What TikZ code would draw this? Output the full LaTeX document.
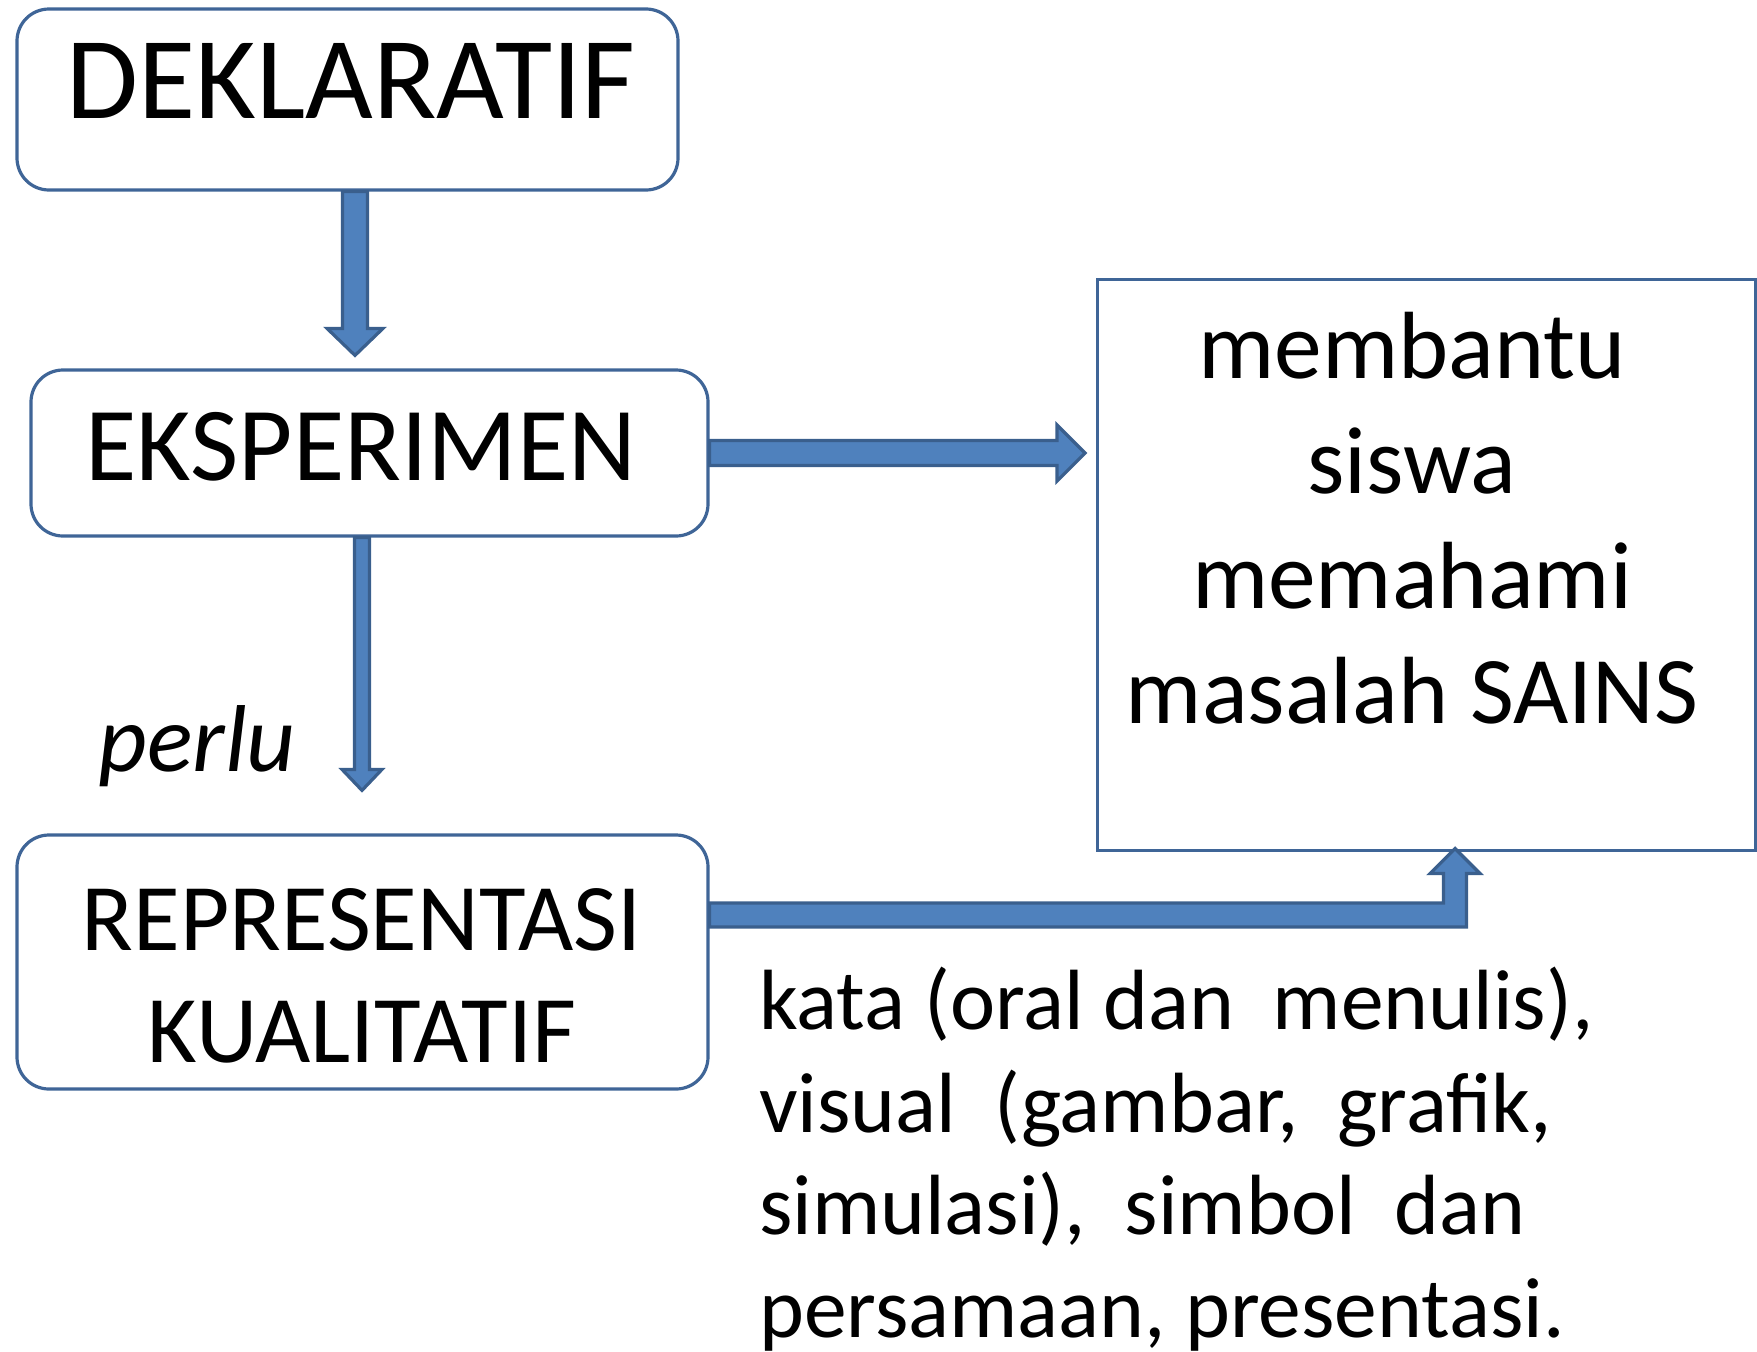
\documentclass[tikz,border=0pt]{standalone}
\usepackage{fontspec}
\setmainfont{Carlito}
\usetikzlibrary{calc}
\definecolor{arrowfill}{HTML}{4F81BD}
\definecolor{arrowline}{HTML}{3A5F8D}
\definecolor{boxline}{HTML}{3F6597}
\tikzset{
  roundbox/.style={draw=boxline, line width=3.2pt, rounded corners=32pt, fill=white, inner sep=0pt},
  plainbox/.style={draw=boxline, line width=3pt, fill=white, inner sep=0pt},
  boxtext/.style={inner sep=0pt, anchor=base},
  blockarrow/.style={fill=arrowfill, draw=arrowline, line width=3.2pt, line join=miter},
}
\begin{document}
\begin{tikzpicture}[x=1pt,y=-1pt]
\useasboundingbox (0,0) rectangle (1757,1352);

% boxes
\node[roundbox, minimum width=661pt, minimum height=181pt] (dek) at (347.5,99.5) {};
\node[roundbox, minimum width=677pt, minimum height=166pt] (eks) at (369.5,453) {};
\node[roundbox, minimum width=691pt, minimum height=254pt] (rep) at (362.5,962) {};
\node[plainbox, minimum width=658pt, minimum height=571pt] (goal) at (1426.5,564.5) {};

% box texts
\node[boxtext, font=\fontsize{117}{117}\selectfont] (dektxt) at (351,118) {DEKLARATIF};
\node[boxtext, font=\fontsize{105}{105}\selectfont] (ekstxt) at (361,480) {EKSPERIMEN};
\node[boxtext, font=\fontsize{95.5}{95.5}\selectfont] (reptxtA) at (361.5,950) {REPRESENTASI};
\node[boxtext, font=\fontsize{95.5}{95.5}\selectfont] (reptxtB) at (362,1062) {KUALITATIF};
\node[boxtext, font=\fontsize{95.5}{95.5}\selectfont] (goalA) at (1412,378) {membantu};
\node[boxtext, font=\fontsize{95.5}{95.5}\selectfont] (goalB) at (1412,493) {siswa};
\node[boxtext, font=\fontsize{95.5}{95.5}\selectfont] (goalC) at (1412,608) {memahami};
\node[boxtext, font=\fontsize{95.5}{95.5}\selectfont] (goalD) at (1412,723) {masalah SAINS};

% labels
\node[boxtext, anchor=base west, font=\fontsize{95}{95}\selectfont\itshape] (perlu) at (98,771) {perlu};
\node[inner sep=0pt, anchor=base west, align=left, font=\fontsize{85.5}{102.5}\selectfont] (forms) at (759,1337)
  {kata (oral dan\ \ menulis),\\visual\ \ (gambar,\ \ grafik,\\simulasi),\ \ simbol\ \ dan\\persamaan, presentasi.};

% connector end points
\coordinate (a1s) at ([xshift=7.5pt]dek.south);
\coordinate (a1e) at ($(eks.north)+(-14.5pt,13pt)$);
\coordinate (a2s) at (eks.east);
\coordinate (a2e) at ($(goal.west)+(-11pt,-112.5pt)$);
\coordinate (a3s) at ([xshift=-7.5pt]eks.south);
\coordinate (a3e) at ($(rep.north)+(-0.5pt,43pt)$);
\coordinate (a4s) at ($(rep.east)+(0,47pt)$);
\coordinate (a4e) at ($(goal.south)+(28.5pt,3pt)$);

% DEKLARATIF -> EKSPERIMEN
\filldraw[blockarrow] let \p1=(a1s), \p2=(a1e) in
  (\x1-12.5pt,\y1) -- (\x1-12.5pt,\y2+27pt) -- (\x1-28pt,\y2+27pt) -- (\x1,\y2)
  -- (\x1+28pt,\y2+27pt) -- (\x1+12.5pt,\y2+27pt) -- (\x1+12.5pt,\y1) -- cycle;

% EKSPERIMEN -> goal
\filldraw[blockarrow] let \p1=(a2s), \p2=(a2e) in
  (\x1,\y1+12.5pt) -- (\x2-28pt,\y1+12.5pt) -- (\x2-28pt,\y1+28pt) -- (\x2,\y1)
  -- (\x2-28pt,\y1-28pt) -- (\x2-28pt,\y1-12.5pt) -- (\x1,\y1-12.5pt) -- cycle;

% EKSPERIMEN -> REPRESENTASI
\filldraw[blockarrow] let \p1=(a3s), \p2=(a3e) in
  (\x1-7.5pt,\y1) -- (\x1-7.5pt,\y2+21pt) -- (\x1-20pt,\y2+21pt) -- (\x1,\y2)
  -- (\x1+20pt,\y2+21pt) -- (\x1+7.5pt,\y2+21pt) -- (\x1+7.5pt,\y1) -- cycle;

% REPRESENTASI -> goal (elbow)
\filldraw[blockarrow] let \p1=(a4s), \p2=(a4e) in
  (\x1,\y1-12pt) -- (\x2+11.5pt,\y1-12pt) -- (\x2+11.5pt,\y2-25pt) -- (\x2+25pt,\y2-25pt)
  -- (\x2,\y2) -- (\x2-25pt,\y2-25pt) -- (\x2-11.5pt,\y2-25pt) -- (\x2-11.5pt,\y1+12pt)
  -- (\x1,\y1+12pt) -- cycle;

\end{tikzpicture}
\end{document}
